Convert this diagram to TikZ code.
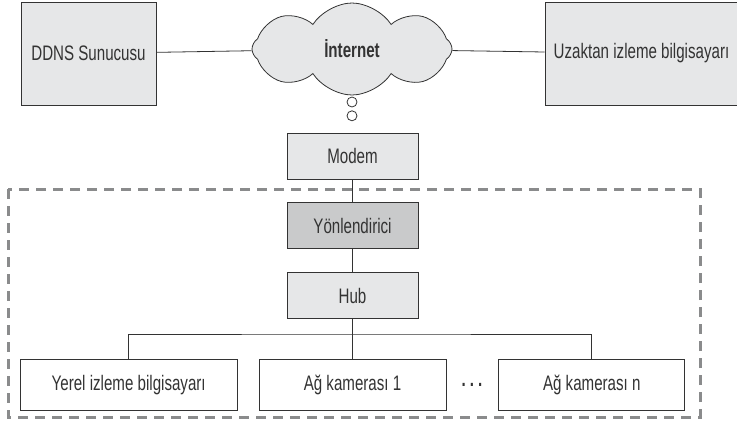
\documentclass[tikz,border=0pt]{standalone}
\usepackage{fontspec}
\setmainfont[FakeStretch=0.72]{Liberation Sans}
\usetikzlibrary{positioning,shapes.symbols}
\definecolor{boxfill}{HTML}{E6E7E8}
\definecolor{routerfill}{HTML}{C9CACB}
\definecolor{edge}{HTML}{333333}
\definecolor{frame}{HTML}{8A8B8C}
\tikzset{
    box/.style={draw=edge, line width=0.8pt, fill=boxfill, text=edge, inner sep=0pt,
        font=\fontsize{21}{24}\selectfont, minimum width=131pt, minimum height=46pt},
    hostbox/.style={box, minimum height=103pt},
    leafbox/.style={box, fill=white, minimum height=51pt},
    bubble/.style={draw=edge, line width=0.8pt, fill=white, circle, inner sep=0pt, minimum size=10pt},
    link/.style={draw=edge, line width=0.8pt}
}
\begin{document}
\begin{tikzpicture}[x=1pt, y=-1pt]
                \useasboundingbox (0,0) rectangle (737,424);
                \draw[frame, line width=3pt, dash pattern=on 10pt off 7pt] (8,189) rectangle (700,417);

                \node[hostbox, minimum width=135pt] (D) at (88.5,53.5) {DDNS Sunucusu};
                \node[cloud, cloud puffs=8, cloud puff arc=115, aspect=2.1, draw=edge, line width=0.8pt,
                    fill=boxfill, minimum width=200pt, minimum height=92pt, inner sep=0pt, text=edge,
                    font=\fontsize{21}{24}\selectfont\bfseries] (I) at (352,49) {İnternet};
                \node[hostbox, minimum width=193pt] (U) at (641.5,53.5) {Uzaktan izleme bilgisayarı};
                \node[bubble] (B1) at (352,102) {};
                \node[bubble, below=3pt of B1] (B2) {};

                \node[box] (M) at (352.5,156) {Modem};
                \node[box, fill=routerfill, below=23pt of M] (R) {Yönlendirici};
                \node[box, below=23pt of R] (H) {Hub};

                \node[leafbox, minimum width=187pt, below=40pt of H] (C1) {Ağ kamerası 1};
                \node[leafbox, minimum width=217pt, left=21pt of C1] (Y) {Yerel izleme bilgisayarı};
                \node[leafbox, minimum width=186pt, right=52pt of C1] (Cn) {Ağ kamerası n};
                \node[text=edge, anchor=base, font=\fontsize{21}{24}\selectfont\bfseries] (dots) at (472,386)
                    {.\hspace{4pt}.\hspace{4pt}.};
                \coordinate (bus) at (352.5,334);

                \draw[link] (D) -- (I);
                \draw[link] (I) -- (U);
                \draw[link] (M) -- (R);
                \draw[link] (R) -- (H);
                \draw[link] (H) -- (C1);
                \draw[link] (Y) |- (bus) -| (Cn);
            \end{tikzpicture}
\end{document}
